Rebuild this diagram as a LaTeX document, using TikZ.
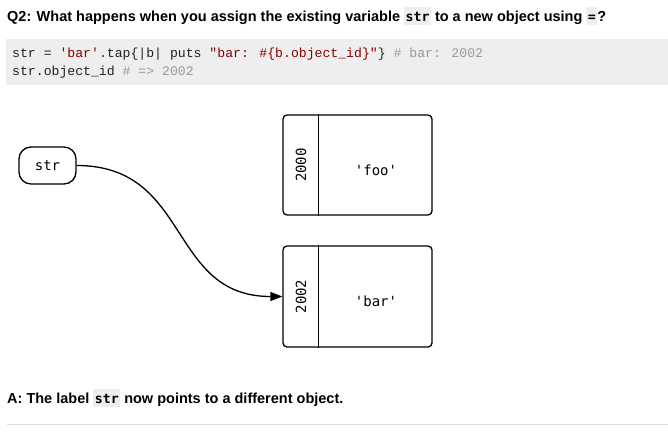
\documentclass[tikz,border=0pt]{standalone}
\usepackage{fontspec}
\setmainfont{Liberation Sans}
\newfontfamily\codefont{Liberation Mono}
\newfontfamily\dfont{DejaVu Sans Mono}
\usetikzlibrary{arrows.meta}
\definecolor{codebg}{HTML}{EEEEEE}
\definecolor{strcol}{HTML}{880000}
\definecolor{comcol}{HTML}{999999}
\definecolor{codetxt}{HTML}{222222}
\definecolor{rulecol}{HTML}{DDDDDD}
\newcommand\sq{\char"27\relax}
\newcommand\dq{\char"22\relax}
\newcommand\icode[1]{{\setlength\fboxsep{0pt}\colorbox{codebg}{\rule[-4pt]{0pt}{18pt}\kern1.5pt{\dfont\bfseries\fontsize{13.2}{16}\selectfont #1}\kern1.5pt}}}
\tikzset{
  heading/.style={anchor=base west, inner sep=0pt, font=\fontsize{14.5}{17}\selectfont\bfseries},
  codeline/.style={anchor=base west, inner sep=0pt, text=codetxt, font=\codefont\fontsize{13.15}{16}\selectfont},
  varbox/.style={draw, line width=1.3pt, rounded corners=12pt, minimum width=57pt, minimum height=37pt, inner sep=0pt, font=\dfont\fontsize{14}{16}\selectfont},
  objbox/.style={draw, line width=1.3pt, rounded corners=4pt, minimum width=149pt, inner sep=0pt},
  lbl/.style={inner sep=0pt, font=\dfont\fontsize{14}{16}\selectfont},
  ptr/.style={line width=1.3pt, -{Triangle[length=12pt,width=9pt]}},
  divider/.style={line width=1.3pt}
}
\begin{document}
\begin{tikzpicture}[x=1pt,y=-1pt]
\useasboundingbox (0,0) rectangle (668,434);
\fill[codebg] (6,39) rectangle (668,85);
\node[heading] (title) at (7,21) {Q2: What happens when you assign the existing variable \icode{str} to a new object using \icode{=}?};
\node[codeline] (l1) at (12,57) {str = {\color{strcol}\sq bar\sq}.tap\{|b| puts {\color{strcol}\dq bar: \#\{b.object\_id\}\dq}\} {\color{comcol}\# bar: 2002}};
\node[codeline] (l2) at (12,75) {str.object\_id {\color{comcol}\# => 2002}};

\node[varbox] (str) at (47.5,165.5) {str};

\node[objbox, minimum height=100pt] (b1) at (357.5,165) {};
\draw[divider] ([xshift=36pt]b1.north west) -- ([xshift=36pt]b1.south west);
\node[lbl, rotate=90] (id1) at (301,165) {2000};
\node[lbl] (v1) at (376,170) {\sq foo\sq};

\node[objbox, minimum height=101pt] (b2) at (357.5,296.5) {};
\draw[divider] ([xshift=36pt]b2.north west) -- ([xshift=36pt]b2.south west);
\node[lbl, rotate=90] (id2) at (301,296.5) {2002};
\node[lbl] (v2) at (376,301) {\sq bar\sq};

\draw[ptr] (str.east) .. controls +(115,0) and +(-115,0) .. (b2.west);

\node[heading] (ans) at (7,403) {A: The label \icode{str} now points to a different object.};
\draw[rulecol, line width=1pt] (7,424.5) -- (668,424.5);
\end{tikzpicture}
\end{document}
